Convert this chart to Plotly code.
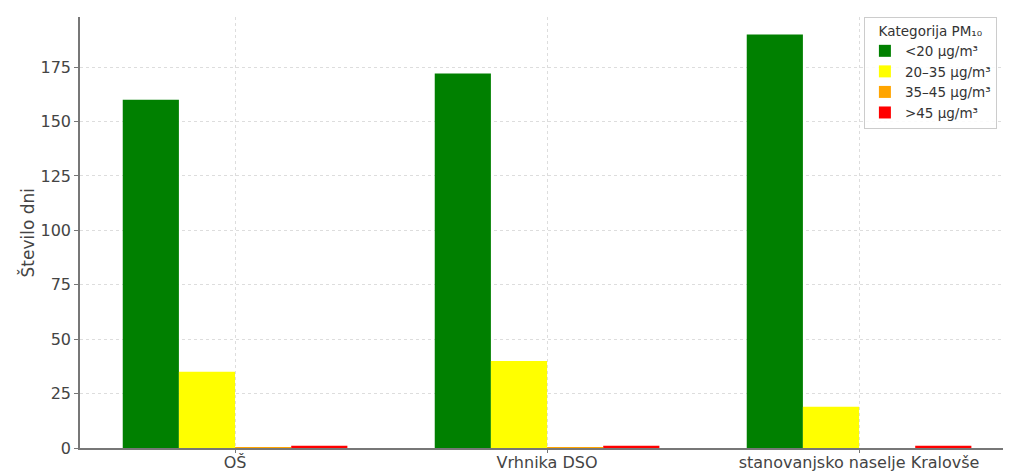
import plotly.graph_objects as go

categories = ["OŠ", "Vrhnika DSO", "stanovanjsko naselje Kralovše"]
series_names = ["<20 µg/m³", "20–35 µg/m³", "35–45 µg/m³", ">45 µg/m³"]
vals_lt20 = [160, 172, 190]
vals_20_35 = [35, 40, 19]
vals_35_45 = [0.4, 0.4, 0]
vals_gt45 = [1, 1, 1]
colors = ["#008000", "#ffff00", "#ffa500", "#ff0000"]
y_ticks = [0, 25, 50, 75, 100, 125, 150, 175]
y_title = "Število dni"

fig = go.Figure()
for name, vals, col in zip(series_names, [vals_lt20, vals_20_35, vals_35_45, vals_gt45], colors):
    fig.add_trace(go.Bar(x=categories, y=vals, name=name, marker=dict(color=col, line=dict(width=0))))

font = "DejaVu Sans, Verdana, sans-serif"
fig.update_layout(
    width=1003, height=465,
    margin=dict(l=72, r=0, t=9, b=25, autoexpand=False),
    barmode="group", bargap=0.28, bargroupgap=0,
    plot_bgcolor="white", paper_bgcolor="white",
    font=dict(family=font, size=16, color="#444"),
    showlegend=True,
    legend=dict(
        title=dict(text="Kategorija PM₁₀", side="top center", font=dict(size=13.5, color="#333")),
        x=0.842, y=1, xanchor="left", yanchor="top",
        bgcolor="rgba(255,255,255,0.85)", bordercolor="#cccccc", borderwidth=1,
        font=dict(size=13.5, color="#333"), tracegroupgap=3, itemwidth=30,
    ),
    xaxis=dict(
        range=[-0.497, 2.487], showgrid=True, gridcolor="#dddddd", griddash="dot", gridwidth=1,
        showline=True, linecolor="#777", linewidth=1.5, ticks="outside", ticklen=3, tickcolor="#777",
        tickfont=dict(size=16, color="#444"), automargin=False, ticklabelstandoff=-4,
    ),
    yaxis=dict(
        range=[0, 198], tickvals=y_ticks, showgrid=True, gridcolor="#dddddd", griddash="dot", gridwidth=1,
        showline=True, linecolor="#777", linewidth=1.5, ticks="outside", ticklen=4, tickcolor="#777",
        tickfont=dict(size=16, color="#444"), zeroline=False, automargin=False,
    ),
    annotations=[dict(
        text=y_title, xref="paper", yref="paper", x=-0.0559, y=0.5,
        xanchor="center", yanchor="middle", textangle=-90, showarrow=False,
        font=dict(size=17, color="#444"),
    )],
)
fig.write_html("out.html")
